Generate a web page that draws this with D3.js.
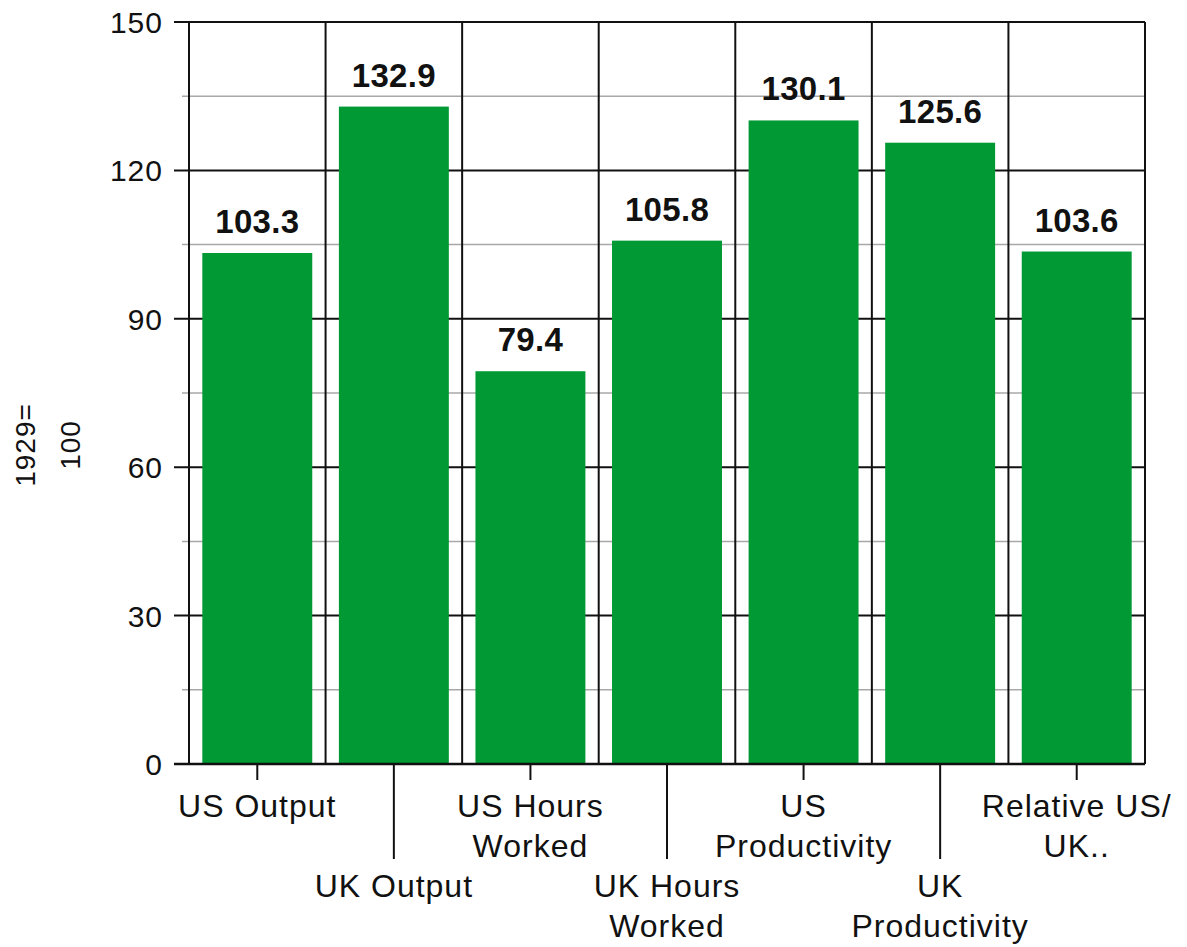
<!DOCTYPE html>
<html>
<head>
<meta charset="utf-8">
<script src="https://cdn.jsdelivr.net/npm/d3@7"></script>
<style>
  body { margin: 0; background: #fff; }
  text { font-family: "Liberation Sans", Arial, sans-serif; fill: #111; }
</style>
</head>
<body>
<svg id="chart"></svg>
<script>
const categories = ['US Output', 'UK Output', 'US Hours Worked', 'UK Hours Worked',
  'US Productivity', 'UK Productivity', 'Relative US/UK..'];
const values = [103.3, 132.9, 79.4, 105.8, 130.1, 125.6, 103.6];
const labelLines = [['US Output'], ['UK Output'], ['US Hours', 'Worked'], ['UK Hours', 'Worked'],
  ['US', 'Productivity'], ['UK', 'Productivity'], ['Relative US/', 'UK..']];
const majorTicks = [0, 30, 60, 90, 120, 150];
const minorTicks = [15, 45, 75, 105, 135];
const yTitle = ['1929=', '100'];

const WIDTH = 1187, HEIGHT = 947;
const plotLeft = 189, plotRight = 1145, plotTop = 22, plotBottom = 764;

const svg = d3.select('#chart').attr('width', WIDTH).attr('height', HEIGHT);

const x = d3.scaleBand().domain(categories).range([plotLeft, plotRight]).padding(0);
const y = d3.scaleLinear().domain([0, 150]).range([plotBottom, plotTop]);

// minor grey gridlines
svg.append('g').selectAll('line').data(minorTicks).join('line')
    .attr('x1', plotLeft - 7).attr('x2', plotRight)
    .attr('y1', d => y(d)).attr('y2', d => y(d))
    .attr('stroke', '#a8a8a8').attr('stroke-width', 1.5);

// major gridlines + ticks
svg.append('g').selectAll('line').data(majorTicks).join('line')
    .attr('x1', plotLeft - 15).attr('x2', plotRight)
    .attr('y1', d => y(d)).attr('y2', d => y(d))
    .attr('stroke', '#111').attr('stroke-width', 2);

// bars
const barW = x.bandwidth() * 0.805;
svg.append('g').selectAll('rect').data(values).join('rect')
    .attr('x', (d, i) => x(categories[i]) + (x.bandwidth() - barW) / 2)
    .attr('y', d => y(d))
    .attr('width', barW)
    .attr('height', d => y(0) - y(d))
    .attr('fill', '#009933');

// vertical category separators
const seps = categories.map(c => x(c)).concat([plotRight]);
svg.append('g').selectAll('line').data(seps).join('line')
    .attr('x1', d => d).attr('x2', d => d)
    .attr('y1', plotTop).attr('y2', plotBottom)
    .attr('stroke', '#111').attr('stroke-width', 2);

// zero line on top
svg.append('line').attr('x1', plotLeft - 15).attr('x2', plotRight)
    .attr('y1', y(0)).attr('y2', y(0)).attr('stroke', '#111').attr('stroke-width', 2.5);

// value labels
svg.append('g').selectAll('text').data(values).join('text')
    .attr('x', (d, i) => x(categories[i]) + x.bandwidth() / 2)
    .attr('y', d => y(d) - 20)
    .attr('text-anchor', 'middle')
    .attr('font-size', 33).attr('font-weight', 'bold')
    .attr('letter-spacing', 0.3)
    .text(d => d.toFixed(1));

// y tick labels
svg.append('g').selectAll('text').data(majorTicks).join('text')
    .attr('x', plotLeft - 26)
    .attr('y', d => y(d) + 11)
    .attr('text-anchor', 'end')
    .attr('font-size', 30)
    .attr('letter-spacing', 1)
    .text(d => d);

// x ticks and labels, alternating levels
categories.forEach((c, i) => {
  const cx = x(c) + x.bandwidth() / 2;
  const low = i % 2 === 1;
  svg.append('line').attr('x1', cx).attr('x2', cx)
      .attr('y1', plotBottom).attr('y2', low ? 859 : 780)
      .attr('stroke', '#111').attr('stroke-width', 2);
  const t = svg.append('text')
      .attr('text-anchor', 'middle')
      .attr('font-size', 32)
      .attr('letter-spacing', 1);
  labelLines[i].forEach((ln, j) => {
    t.append('tspan').attr('x', cx).attr('y', (low ? 897 : 817) + j * 40).text(ln);
  });
});

// y axis title
const yt = svg.append('text')
    .attr('transform', 'translate(0,445) rotate(-90)')
    .attr('text-anchor', 'middle')
    .attr('font-size', 28)
    .attr('letter-spacing', 1);
yTitle.forEach((ln, j) => {
  yt.append('tspan').attr('x', 0).attr('y', 35 + j * 45).text(ln);
});
</script>
</body>
</html>
